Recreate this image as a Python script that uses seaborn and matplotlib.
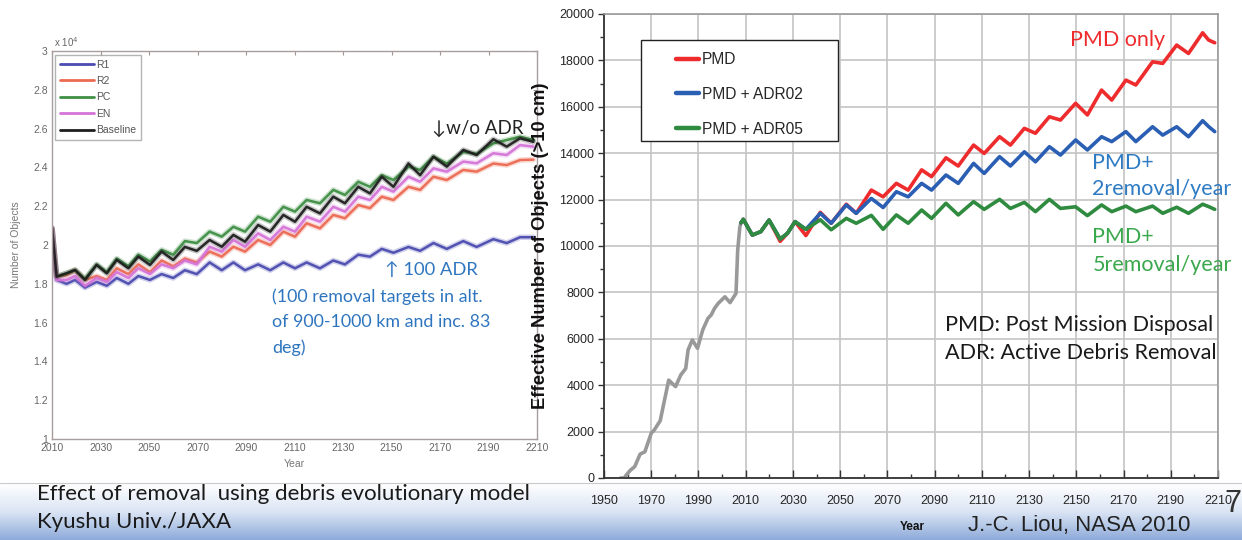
import numpy as np
import pandas as pd
import matplotlib
matplotlib.use("Agg")
import matplotlib.pyplot as plt
import seaborn as sns
from matplotlib.lines import Line2D
from matplotlib.patches import Rectangle
from matplotlib.colors import LinearSegmentedColormap
from matplotlib.ticker import MultipleLocator

# ---------------- Left chart data (Kyushu Univ./JAXA), units of 10^4 objects ----------------
left_years = [2010, 2011.9, 2016, 2019.5, 2023.6, 2028.4, 2032.6, 2036.7, 2041.5, 2045.6,
              2050.4, 2055.2, 2060, 2064.8, 2069.7, 2075, 2080, 2084.8, 2089.6, 2095,
              2100, 2105.4, 2110.2, 2115, 2120.5, 2126, 2130.8, 2136.3, 2141.1, 2146,
              2150.8, 2157, 2161.8, 2167.3, 2172.8, 2179.6, 2185.1, 2192, 2197.5, 2203, 2208.5]
r1_vals = [2.086, 1.82, 1.80, 1.82, 1.78, 1.81, 1.79, 1.83, 1.80, 1.84,
           1.82, 1.85, 1.83, 1.87, 1.85, 1.91, 1.87, 1.91, 1.87, 1.90,
           1.87, 1.91, 1.88, 1.91, 1.88, 1.92, 1.90, 1.95, 1.94, 1.98,
           1.96, 1.99, 1.97, 2.01, 1.98, 2.02, 1.99, 2.03, 2.01, 2.04, 2.04]
r2_vals = [2.086, 1.837, 1.845, 1.87, 1.82, 1.84, 1.82, 1.88, 1.85, 1.90,
           1.86, 1.92, 1.89, 1.93, 1.91, 1.966, 1.94, 1.991, 1.966, 2.026,
           2.0, 2.069, 2.043, 2.112, 2.086, 2.155, 2.138, 2.206, 2.19, 2.249,
           2.232, 2.30, 2.284, 2.352, 2.335, 2.387, 2.378, 2.42, 2.412, 2.438, 2.44]
pc_vals = [2.086, 1.837, 1.854, 1.871, 1.825, 1.90, 1.86, 1.93, 1.89, 1.95,
           1.915, 1.975, 1.95, 2.02, 2.01, 2.069, 2.043, 2.094, 2.069, 2.146,
           2.12, 2.197, 2.172, 2.232, 2.215, 2.284, 2.258, 2.326, 2.30, 2.36,
           2.335, 2.404, 2.387, 2.455, 2.42, 2.48, 2.47, 2.524, 2.541, 2.558, 2.541]
en_vals = [2.086, 1.82, 1.82, 1.84, 1.79, 1.83, 1.81, 1.86, 1.83, 1.88,
           1.85, 1.90, 1.88, 1.92, 1.90, 1.991, 1.966, 2.026, 1.991, 2.06,
           2.026, 2.094, 2.069, 2.146, 2.12, 2.197, 2.172, 2.249, 2.232, 2.30,
           2.275, 2.352, 2.326, 2.395, 2.378, 2.43, 2.421, 2.473, 2.464, 2.515, 2.507]
base_vals = [2.086, 1.837, 1.854, 1.871, 1.82, 1.897, 1.854, 1.923, 1.88, 1.94,
             1.897, 1.966, 1.923, 1.99, 1.97, 2.026, 1.991, 2.052, 2.017, 2.103,
             2.069, 2.155, 2.12, 2.197, 2.163, 2.249, 2.215, 2.30, 2.266, 2.352,
             2.30, 2.42, 2.36, 2.455, 2.404, 2.49, 2.464, 2.545, 2.507, 2.55, 2.532]
left_names = ["R1", "R2", "PC", "EN", "Baseline"]
left_xticks = [2010, 2030, 2050, 2070, 2090, 2110, 2130, 2150, 2170, 2190, 2210]
left_yticks = [1, 1.2, 1.4, 1.6, 1.8, 2, 2.2, 2.4, 2.6, 2.8, 3]
left_yticklabels = ["1", "1.2", "1.4", "1.6", "1.8", "2", "2.2", "2.4", "2.6", "2.8", "3"]

# ---------------- Right chart data (J.-C. Liou, NASA 2010) ----------------
hist_years = [1957, 1958.5, 1961, 1963, 1965.3, 1967.3, 1970, 1971.3, 1973.8, 1977.4,
              1980.3, 1982.5, 1984.6, 1985.6, 1987.4, 1989.6, 1991.8, 1994, 1995.4, 1996.8,
              1998.3, 2001.2, 2003.4, 2005.9, 2006.6, 2007.5, 2008]
hist_vals = [0, 0, 320, 490, 1030, 1130, 1930, 2070, 2470, 4220,
             3940, 4440, 4720, 5520, 5950, 5590, 6380, 6880, 7030, 7310,
             7520, 7810, 7560, 7960, 9800, 10800, 11000]
proj_years = [2008, 2009, 2012.8, 2016.4, 2019.9, 2024.6, 2027.7, 2030.9, 2035.5, 2041.6,
              2046.2, 2052.6, 2056.8, 2063.2, 2068.2, 2073.8, 2078.8, 2084.5, 2088.7, 2094.8,
              2100, 2106.5, 2111, 2117.5, 2122.1, 2128, 2132.7, 2138.6, 2143.3, 2149.7,
              2154.7, 2160.7, 2165, 2171, 2175.2, 2182.3, 2186.6, 2192.5, 2197.5, 2203.5,
              2206, 2208.6]
pmd_vals = [11000, 11150, 10470, 10620, 11120, 10200, 10550, 11050, 10450, 11450,
            10980, 11800, 11410, 12410, 12120, 12700, 12410, 13280, 12990, 13800,
            13450, 14350, 13990, 14710, 14350, 15070, 14860, 15570, 15430, 16150,
            15650, 16720, 16290, 17150, 16940, 17940, 17870, 18660, 18300, 19190,
            18880, 18760]
adr02_vals = [11000, 11150, 10470, 10620, 11120, 10300, 10550, 11050, 10720, 11410,
              10980, 11770, 11410, 12050, 11660, 12340, 12120, 12700, 12410, 13060,
              12700, 13560, 13130, 13850, 13450, 14060, 13630, 14280, 13920, 14570,
              14140, 14710, 14500, 14930, 14500, 15140, 14780, 15140, 14710, 15400,
              15150, 14930]
adr05_vals = [11000, 11150, 10470, 10620, 11120, 10300, 10550, 11050, 10720, 11130,
              10700, 11190, 10980, 11320, 10720, 11340, 10980, 11550, 11190, 11840,
              11340, 11910, 11580, 12010, 11620, 11880, 11480, 12010, 11620, 11690,
              11310, 11770, 11480, 11720, 11480, 11720, 11410, 11670, 11410, 11800,
              11700, 11580]
right_names = ["PMD", "PMD + ADR02", "PMD + ADR05"]
right_xticks = list(range(1950, 2211, 20))
right_yticks = list(range(0, 20001, 2000))

# ---------------- styling ----------------
sns.set_theme(style="white")
plt.rcParams["font.family"] = ["Liberation Sans", "DejaVu Sans"]
CAL = ["Lato", "DejaVu Sans"]

left_colors = ["#4b4bb0", "#ec6a52", "#3f8f45", "#d574d8", "#1e1e1e"]
right_colors = ["#ee2b2d", "#2b5fb4", "#2f8b3f"]
hist_color = "#999999"

fig = plt.figure(figsize=(12.42, 5.4), dpi=100)
fig.patch.set_facecolor("white")

# bottom gradient band of the slide
bg = fig.add_axes([0, 0, 1, 1], zorder=-5)
bg.set_xlim(0, 1)
bg.set_ylim(0, 1)
bg.axis("off")
cmap = LinearSegmentedColormap.from_list("band", ["#ffffff", "#dbe5f4", "#8eabda"])
band_top = 57 / 540
bg.imshow(np.linspace(1, 0, 200)[:, None], cmap=cmap, aspect="auto",
          extent=[0, 1, 0, band_top], origin="lower", vmin=0, vmax=1)
bg.plot([0, 1], [band_top, band_top], color="#c9c9c9", lw=0.8)

# ---------------- Left chart ----------------
axL = fig.add_axes([52 / 1242, 1 - 439 / 540, 485 / 1242, 388 / 540], zorder=0)
left_df = pd.DataFrame({
    "year": left_years * 5,
    "value": r1_vals + r2_vals + pc_vals + en_vals + base_vals,
    "series": sum([[n] * len(left_years) for n in left_names], []),
})
for name, col in zip(left_names, left_colors):
    sub = left_df[left_df["series"] == name]
    sns.lineplot(data=sub, x="year", y="value", color=col, lw=4.0, alpha=0.25,
                 estimator=None, sort=False, ax=axL, legend=False)
    sns.lineplot(data=sub, x="year", y="value", color=col, lw=1.8, alpha=0.95,
                 estimator=None, sort=False, ax=axL, legend=False)
axL.set_xlim(2010, 2210)
axL.set_ylim(1, 3)
axL.set_xticks(left_xticks)
axL.set_yticks(left_yticks)
axL.set_yticklabels(left_yticklabels)
axL.tick_params(direction="in", top=True, right=True, length=3, width=0.8,
                color="#a09494", labelsize=7.5, labelcolor="#666666", pad=3)
for s in axL.spines.values():
    s.set_color("#a89c9c")
    s.set_linewidth(1.0)
axL.set_xlabel("Year", fontsize=7.5, color="#777777", labelpad=4)
axL.set_ylabel("Number of Objects", fontsize=7.5, color="#777777", labelpad=9)
axL.text(0.004, 1.005, r"x 10$^4$", transform=axL.transAxes, fontsize=7,
         color="#666666", ha="left", va="bottom")
lh = [Line2D([0], [0], color=c, lw=2) for c in left_colors]
legL = axL.legend(lh, left_names, loc="upper left", bbox_to_anchor=(0.006, 0.99),
                  fontsize=7.5, handlelength=3.3, handletextpad=0.2, labelspacing=0.62,
                  borderpad=0.45, borderaxespad=0, fancybox=False, frameon=True)
legL.get_frame().set_edgecolor("#a0a0a0")
legL.get_frame().set_linewidth(1.0)
for t in legL.get_texts():
    t.set_color("#555555")

axL.text(2166.7, 2.603, "\u2193w/o ADR", fontsize=13.5, family=CAL, color="#222222",
         ha="left", va="center")
axL.text(2147.3, 1.871, "\u2191 100 ADR", fontsize=13.2, family=CAL, color="#2e75c0",
         ha="left", va="center")
axL.text(2100.7, 1.778, "(100 removal targets in alt.\nof 900-1000 km and inc. 83\ndeg)",
         fontsize=12.9, family=CAL, color="#2e75c0", ha="left", va="top",
         linespacing=1.72)

fig.text(37 / 1242, 1 - 494 / 540, "Effect of removal  using debris evolutionary model",
         fontsize=16, family=CAL, color="#1a1a1a", ha="left", va="center")
fig.text(37 / 1242, 1 - 522 / 540, "Kyushu Univ./JAXA",
         fontsize=16, family=CAL, color="#1a1a1a", ha="left", va="center")

# ---------------- Right chart ----------------
axR = fig.add_axes([604 / 1242, 1 - 478 / 540, 614 / 1242, 464 / 540], zorder=1)
sns.lineplot(x=hist_years, y=hist_vals, color=hist_color, lw=2.6, estimator=None,
             sort=False, ax=axR, legend=False)
for vals, col in zip([pmd_vals, adr02_vals, adr05_vals], right_colors):
    sns.lineplot(x=proj_years, y=vals, color=col, lw=2.6, estimator=None,
                 sort=False, ax=axR, legend=False)
axR.set_xlim(1950, 2210)
axR.set_ylim(0, 20000)
axR.set_xticks(right_xticks)
axR.set_yticks(right_yticks)
axR.xaxis.set_minor_locator(MultipleLocator(10))
axR.yaxis.set_minor_locator(MultipleLocator(1000))
axR.grid(True, which="major", color="#c4c4c4", lw=1.2)
axR.set_axisbelow(True)
axR.tick_params(axis="x", which="major", direction="in", length=6, width=1,
                color="#333333", labelsize=9, pad=12, bottom=True)
axR.tick_params(axis="x", which="minor", direction="in", length=3, width=1,
                color="#333333", bottom=True)
axR.tick_params(axis="y", which="major", direction="out", length=4, width=1,
                color="#333333", labelsize=9, pad=3, left=True)
axR.tick_params(axis="y", which="minor", direction="out", length=3, width=1,
                color="#333333", left=True)
for side in ["left", "bottom"]:
    axR.spines[side].set_color("#333333")
    axR.spines[side].set_linewidth(1.3)
for side in ["top", "right"]:
    axR.spines[side].set_color("#9a9a9a")
    axR.spines[side].set_linewidth(1.2)
axR.set_xlabel("")
axR.set_ylabel("Effective Number of Objects (>10 cm)", fontsize=13.2,
               fontweight="bold", color="#111111")
axR.yaxis.set_label_coords(-0.0896, 0.5)

axR.add_patch(Rectangle((0.0603, 0.726), 0.321, 0.218, transform=axR.transAxes,
                        facecolor="white", edgecolor="#222222", lw=1.0, zorder=5))
rh = [Line2D([0], [0], color=c, lw=3.2) for c in right_colors]
legR = axR.legend(rh, right_names, loc="upper left", bbox_to_anchor=(0.118, 0.918),
                  fontsize=11.2, handlelength=1.45, handletextpad=0.18, labelspacing=1.27,
                  borderpad=0, borderaxespad=0, frameon=False)
legR.set_zorder(6)

axR.text(2147.4, 18880, "PMD only", fontsize=15.5, family=CAL, color="#ee2b2d",
         ha="left", va="center", zorder=7)
axR.text(2156.8, 13580, "PMD+", fontsize=15.5, family=CAL, color="#2e7bc4",
         ha="left", va="center", zorder=7)
axR.text(2156.8, 12460, "2removal/year", fontsize=15.5, family=CAL, color="#2e7bc4",
         ha="left", va="center", clip_on=False, zorder=7)
axR.text(2156.8, 10390, "PMD+", fontsize=15.5, family=CAL, color="#3aa84c",
         ha="left", va="center", zorder=7)
axR.text(2156.8, 9180, "5removal/year", fontsize=15.5, family=CAL, color="#3aa84c",
         ha="left", va="center", clip_on=False, zorder=7)
axR.text(2094.3, 6590, "PMD: Post Mission Disposal", fontsize=15.6, family=CAL,
         color="#1a1a1a", ha="left", va="center", zorder=7)
axR.text(2094.3, 5390, "ADR: Active Debris Removal", fontsize=15.6, family=CAL,
         color="#1a1a1a", ha="left", va="center", zorder=7)

fig.text(912 / 1242, 1 - 527 / 540, "Year", fontsize=8.5, fontweight="bold",
         color="#111111", ha="center", va="center")
fig.text(968 / 1242, 1 - 526 / 540, "J.-C. Liou, NASA 2010", fontsize=16,
         color="#222222", ha="left", va="center")
fig.text(1233 / 1242, 1 - 504 / 540, "7", fontsize=22, color="#333333",
         ha="center", va="center", zorder=10)

fig.savefig("out.png", dpi=100)
